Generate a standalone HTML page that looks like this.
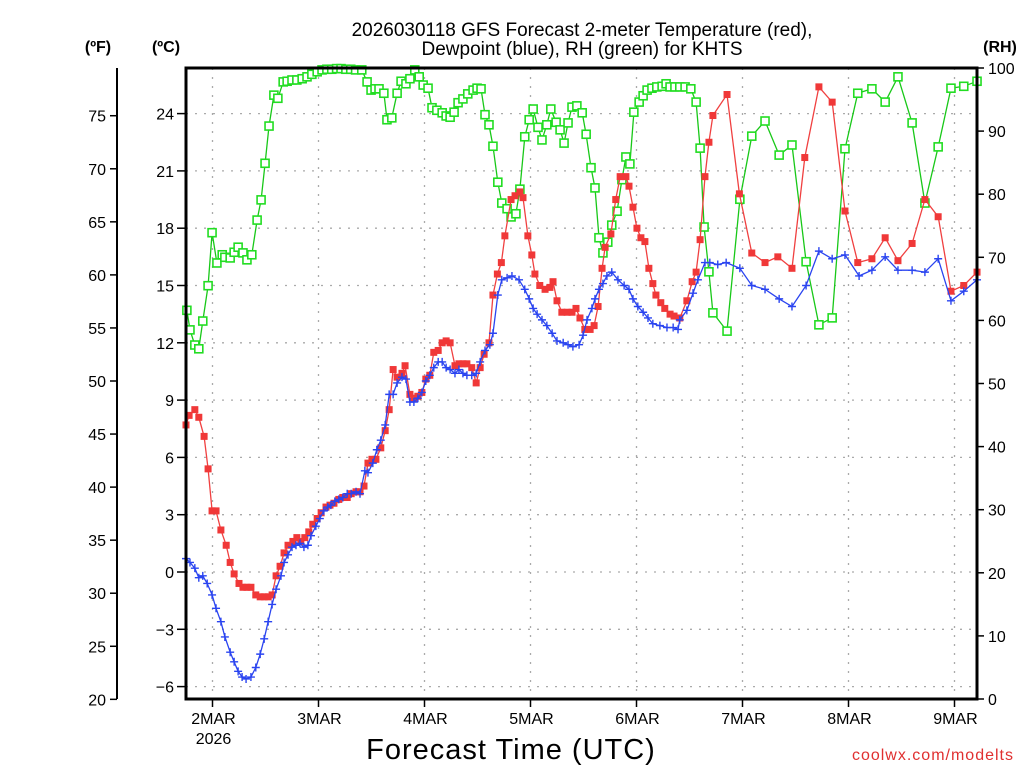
<!DOCTYPE html>
<html><head><meta charset="utf-8"><style>
html,body{margin:0;padding:0;background:#fff;width:1024px;height:768px;overflow:hidden}
svg{display:block;font-family:"Liberation Sans",sans-serif}
</style></head><body>
<svg id="chart" width="1024" height="768" viewBox="0 0 1024 768" xmlns="http://www.w3.org/2000/svg">
<text x="582" y="36" text-anchor="middle" font-size="19" fill="#000">2026030118 GFS Forecast 2-meter Temperature (red),</text>
<text x="582" y="55" text-anchor="middle" font-size="19" fill="#000">Dewpoint (blue), RH (green) for KHTS</text>
<text x="98" y="52" text-anchor="middle" font-size="16" font-weight="bold">(ºF)</text>
<text x="166" y="52" text-anchor="middle" font-size="16" font-weight="bold">(ºC)</text>
<text x="1000" y="52" text-anchor="middle" font-size="16" font-weight="bold">(RH)</text>
<text x="511" y="759" text-anchor="middle" font-size="29" letter-spacing="1">Forecast Time (UTC)</text>
<text x="1014" y="760" text-anchor="end" font-size="16" fill="#e03030" letter-spacing="1">coolwx.com/modelts</text>
<g id="grid"></g><g id="axes"></g><g id="series"></g>
<rect x="186" y="68" width="791" height="631" fill="none" stroke="#000" stroke-width="3"/>
</svg>
<script>
const tempPts=[[0,7.7],[0.7,8.2],[2.0,8.5],[2.9,8.1],[4.1,7.1],[5.0,5.4],[5.9,3.2],[6.8,3.2],[7.9,2.2],[9.1,1.4],[10.0,0.5],[10.9,-0.1],[12.0,-0.6],[12.9,-0.8],[13.8,-0.8],[14.7,-0.8],[15.8,-1.2],[16.8,-1.3],[17.7,-1.3],[18.6,-1.3],[19.5,-1.2],[20.4,-0.2],[21.3,0.3],[22.2,1.0],[23.1,1.4],[24.2,1.6],[25.1,1.8],[26.0,1.6],[26.9,1.8],[27.8,2.1],[28.7,2.5],[29.7,2.8],[30.6,3.1],[31.7,3.4],[32.6,3.5],[33.5,3.6],[34.6,3.8],[35.5,3.9],[36.5,3.9],[37.4,4.1],[38.5,4.2],[39.4,4.2],[40.3,4.5],[41.2,5.7],[42.1,5.9],[43.0,5.9],[44.1,6.5],[45.1,7.4],[46.0,8.5],[46.9,10.6],[47.8,10.2],[48.9,10.4],[49.6,10.8],[50.7,9.3],[51.6,9.1],[52.5,9.2],[53.4,9.4],[54.3,10.1],[55.2,10.3],[56.1,11.5],[57.1,11.6],[58.0,12.0],[58.9,12.1],[59.8,12.0],[60.9,10.8],[61.8,10.9],[62.7,10.9],[63.6,10.9],[64.7,10.7],[65.7,9.9],[66.6,10.7],[67.5,11.4],[68.6,12.0],[69.5,14.5],[70.5,15.6],[71.4,16.2],[72.2,17.6],[73.6,19.5],[74.5,19.7],[75.6,19.9],[76.3,19.6],[77.4,17.6],[78.3,16.6],[79.0,15.6],[80.1,15.0],[81.3,14.8],[82.4,14.9],[83.1,15.2],[84.0,14.2],[85.1,13.6],[86.3,13.6],[87.4,13.6],[88.3,13.8],[89.2,13.3],[90.3,12.7],[91.5,12.7],[92.4,12.9],[93.3,13.9],[94.2,15.9],[94.9,17.0],[96.2,17.7],[97.3,19.5],[98.3,20.7],[99.6,20.7],[100.3,20.2],[101.2,19.1],[102.1,18.0],[103.0,17.5],[103.9,17.3],[104.8,15.9],[105.7,15.1],[106.4,14.5],[107.5,14.1],[108.4,13.8],[109.6,13.5],[110.5,13.4],[111.8,13.3],[113.4,14.2],[114.6,15.2],[115.5,15.7],[116.4,17.4],[117.5,20.7],[118.4,22.5],[119.3,23.9],[122.5,25.0],[125.3,19.8],[128.1,16.7],[131.1,16.2],[134.0,16.5],[137.2,15.9],[140.1,21.7],[143.3,25.4],[146.3,24.6],[149.2,18.9],[152.1,16.2],[155.3,16.4],[158.3,17.5],[161.2,16.3],[164.4,17.2],[167.3,19.5],[170.3,18.6],[173.2,14.7],[176.1,15.0],[179.1,15.7]];
const dewPts=[[0,0.7],[0.9,0.5],[2.0,0.2],[2.9,-0.3],[3.8,-0.2],[4.8,-0.6],[5.9,-1.2],[6.8,-1.9],[7.9,-2.6],[8.8,-3.4],[10.0,-4.2],[10.9,-4.7],[11.8,-5.2],[12.7,-5.5],[13.6,-5.6],[14.7,-5.5],[15.8,-5.0],[16.8,-4.3],[17.7,-3.5],[18.6,-2.6],[19.5,-1.7],[20.4,-0.9],[21.5,-0.2],[22.2,0.5],[23.1,0.9],[24.0,1.3],[24.9,1.4],[25.8,1.5],[26.7,1.3],[27.6,1.4],[28.3,1.9],[29.4,2.4],[30.3,2.8],[31.2,3.2],[32.1,3.4],[32.8,3.5],[33.7,3.7],[34.6,3.8],[35.5,3.9],[36.5,4.1],[37.4,4.1],[38.5,4.2],[39.4,4.1],[40.5,5.3],[41.2,5.2],[42.3,5.7],[43.2,6.4],[44.1,6.9],[45.1,7.7],[46.0,9.3],[46.9,9.3],[47.8,9.9],[48.9,10.2],[49.8,10.1],[50.7,8.9],[51.6,8.9],[52.5,9.1],[53.4,9.4],[54.3,10.0],[55.2,10.3],[56.1,10.7],[57.1,11.0],[58.0,11.0],[58.9,10.7],[59.8,10.6],[60.9,10.4],[61.8,10.6],[62.7,10.4],[63.6,10.3],[64.7,10.3],[65.7,10.4],[66.6,11.0],[67.7,11.6],[68.8,11.9],[69.5,12.5],[70.6,14.5],[71.5,15.3],[72.7,15.4],[73.8,15.5],[75.4,15.3],[76.7,14.8],[77.7,14.3],[78.6,13.8],[79.5,13.5],[80.6,13.2],[81.7,12.9],[82.9,12.5],[84.0,12.1],[85.4,12.0],[86.5,11.9],[87.6,11.8],[89.0,11.9],[89.9,12.4],[90.8,13.2],[91.9,13.8],[92.6,14.3],[93.5,14.8],[94.4,15.1],[95.3,15.5],[96.4,15.7],[97.8,15.3],[99.2,15.0],[100.3,14.8],[101.2,14.3],[102.3,13.9],[103.5,13.6],[104.6,13.3],[105.7,13.0],[107.3,12.9],[108.9,12.8],[110.3,12.8],[111.4,12.7],[111.8,13.2],[113.4,13.7],[114.8,14.6],[115.9,15.3],[117.5,16.2],[118.6,16.2],[120.4,16.1],[122.3,16.2],[125.4,15.9],[128.1,15.0],[131.1,14.8],[134.3,14.3],[137.2,13.9],[140.4,15.0],[143.3,16.8],[146.3,16.4],[149.2,16.6],[152.4,15.5],[155.3,15.8],[158.3,16.5],[161.2,15.8],[164.4,15.8],[167.3,15.7],[170.3,16.4],[173.2,14.2],[176.1,14.7],[179.1,15.3]];
const rhPts=[[0.2,61.6],[0.9,58.5],[2.0,56.1],[2.9,55.5],[3.8,59.9],[5.0,65.5],[5.9,73.9],[7.0,69.1],[8.2,70.4],[8.8,70.0],[10.0,69.9],[10.9,70.8],[11.8,71.6],[12.9,70.7],[13.8,69.6],[14.9,70.4],[16.1,75.9],[17.0,79.1],[17.9,84.9],[18.8,90.8],[19.9,95.7],[20.8,95.2],[22.0,97.8],[22.9,97.9],[24.0,98.1],[25.1,98.1],[26.3,98.3],[27.4,98.6],[28.5,99.0],[29.7,99.4],[30.8,99.7],[31.9,99.8],[33.0,99.8],[34.1,99.9],[35.1,99.9],[36.2,99.8],[37.3,99.8],[38.4,99.7],[39.8,99.7],[41.0,97.8],[41.9,96.5],[42.8,96.7],[43.7,96.7],[44.8,96.0],[45.5,91.8],[46.6,92.1],[47.8,96.0],[48.7,97.9],[49.8,97.5],[50.7,98.3],[51.8,99.7],[52.8,98.6],[53.7,97.3],[54.8,96.8],[55.7,93.7],[56.8,93.3],[58.0,92.9],[58.9,92.4],[59.8,92.2],[60.7,93.0],[61.6,94.5],[62.7,95.1],[63.8,95.9],[65.0,96.5],[65.9,96.8],[66.8,96.7],[67.7,92.6],[68.6,91.0],[69.5,87.6],[70.6,81.9],[71.5,78.6],[72.7,77.7],[73.6,76.4],[74.7,76.9],[75.6,80.8],[76.7,89.1],[77.7,91.8],[78.6,93.5],[79.7,90.6],[80.6,88.6],[81.7,91.0],[82.6,93.5],[83.8,91.4],[84.7,90.2],[85.6,88.1],[86.5,91.3],[87.4,93.8],[88.5,94.0],[89.7,92.9],[90.6,89.5],[91.7,84.2],[92.6,81.0],[93.5,73.1],[94.4,70.7],[95.5,72.4],[96.4,75.1],[97.6,77.3],[98.7,82.3],[99.6,85.9],[100.5,84.8],[101.4,93.0],[102.6,94.6],[103.5,95.6],[104.4,96.5],[105.5,96.8],[106.6,97.0],[107.8,97.1],[108.7,97.5],[109.6,97.0],[110.7,97.0],[111.8,97.0],[113.0,97.0],[114.3,96.7],[115.5,94.6],[116.4,87.3],[117.3,74.8],[118.4,67.7],[119.3,61.2],[122.5,58.3],[125.4,79.2],[128.1,89.2],[131.1,91.6],[134.3,86.2],[137.2,87.8],[140.4,69.3],[143.3,59.3],[146.3,60.4],[149.2,87.2],[152.1,96.0],[155.3,96.7],[158.3,94.6],[161.2,98.6],[164.4,91.3],[167.3,78.6],[170.3,87.5],[173.2,96.8],[176.1,97.1],[179.1,97.9]];
const dayLabels=["2MAR","3MAR","4MAR","5MAR","6MAR","7MAR","8MAR","9MAR"];
const dayHours=[6,30,54,78,102,126,150,174];
const cTicks=[-6,-3,0,3,6,9,12,15,18,21,24];
const fTicks=[20,25,30,35,40,45,50,55,60,65,70,75];
const rhTicks=[0,10,20,30,40,50,60,70,80,90,100];

const NS="http://www.w3.org/2000/svg";
const X0=186,X1=977,Y0=68,Y1=699;
const pxPerHour=106/24;
function xs(h){return X0+h*pxPerHour;}
function yc(c){return 572-c*19.1;}
function yf(f){return yc((f-32)*5/9);}
function yr(r){return Y1-r*(Y1-Y0)/100;}
function mk(tag,attrs,parent){const e=document.createElementNS(NS,tag);for(const k in attrs)e.setAttribute(k,attrs[k]);parent.appendChild(e);return e;}
const grid=document.getElementById('grid'),axes=document.getElementById('axes'),series=document.getElementById('series');

cTicks.forEach(c=>{const y=yc(c);
 const g=mk('line',{x1:X0,x2:X1,y1:y,y2:y,stroke:'#aaa','stroke-width':1.3,'stroke-dasharray':'2 7'},grid);
 
 const t=mk('line',{x1:X0-9,x2:X0,y1:y,y2:y,stroke:'#000','stroke-width':1.5},axes);
 
 const l=mk('text',{x:X0-12,y:y+6,'text-anchor':'end','font-size':16},axes);l.textContent=c<0?'\u2212'+(-c):c;
 
});
const fa=mk('line',{x1:117,x2:117,y1:Y0,y2:Y1,stroke:'#000','stroke-width':2},axes);

fTicks.forEach(f=>{const y=yf(f);
 const t=mk('line',{x1:110,x2:117,y1:y,y2:y,stroke:'#000','stroke-width':1.5},axes);
 
 const l=mk('text',{x:106,y:y+6,'text-anchor':'end','font-size':16},axes);l.textContent=f;
 
});
rhTicks.forEach(r=>{const y=yr(r);
 const t=mk('line',{x1:X1,x2:X1+7,y1:y,y2:y,stroke:'#000','stroke-width':1.5},axes);
 
 const l=mk('text',{x:988,y:y+6,'font-size':16},axes);l.textContent=r;
 
});
dayHours.forEach((h,i)=>{const x=xs(h);
 const g=mk('line',{x1:x,x2:x,y1:Y0,y2:Y1,stroke:'#aaa','stroke-width':1.3,'stroke-dasharray':'2 7'},grid);
 
 const t=mk('line',{x1:x,x2:x,y1:Y1,y2:Y1+8,stroke:'#000','stroke-width':1.5},axes);
 
 const l=mk('text',{x:x+1,y:724,'text-anchor':'middle','font-size':16},axes);l.textContent=dayLabels[i];
 
});
const yl=mk('text',{x:xs(dayHours[0])+1,y:744,'text-anchor':'middle','font-size':16},axes);yl.textContent='2026';


function drawLine(pts,yfn,color,name){
 const p=mk('polyline',{points:pts.map(d=>xs(d[0]).toFixed(1)+','+yfn(d[1]).toFixed(1)).join(' '),fill:'none',stroke:color,'stroke-width':1.3},series);
 
}
drawLine(rhPts,yr,'#18c818','rh-line');
rhPts.forEach(d=>{const r=mk('rect',{x:xs(d[0])-4,y:yr(d[1])-4,width:8,height:8,fill:'#fff',stroke:'#22dd22','stroke-width':1.6},series);
 });
drawLine(tempPts,yc,'#f04040','temperature-line');
tempPts.forEach(d=>{const r=mk('rect',{x:xs(d[0])-3.5,y:yc(d[1])-3.5,width:7,height:7,fill:'#f03838'},series);
 });
drawLine(dewPts,yc,'#2a44f0','dewpoint-line');
dewPts.forEach(d=>{const x=xs(d[0]),y=yc(d[1]);
 const p=mk('path',{d:`M${x-4},${y}H${x+4}M${x},${y-4}V${y+4}`,stroke:'#2a44f0','stroke-width':1.4},series);
 });
</script>
</body></html>
